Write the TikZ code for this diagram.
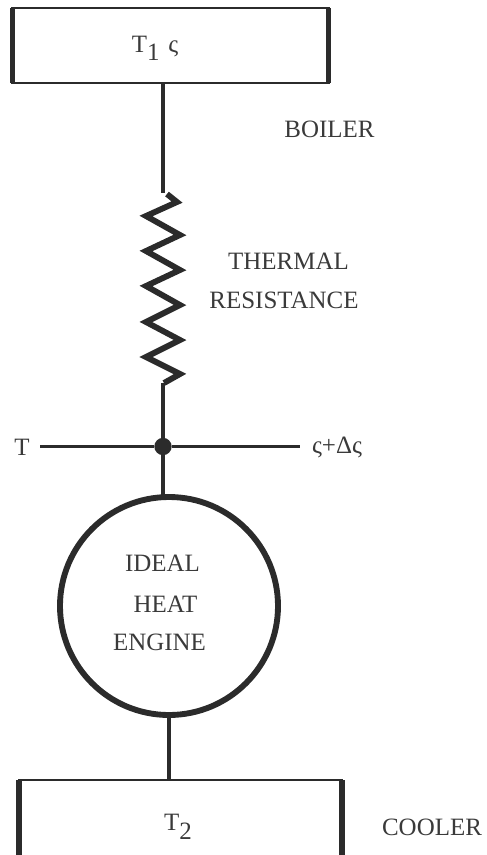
\documentclass[tikz,border=0pt]{standalone}
\usepackage{fontspec}
\setmainfont{Liberation Serif}
\usetikzlibrary{calc}

\definecolor{inkdark}{HTML}{2B2B2B}
\definecolor{inktext}{HTML}{3A3A3A}
\tikzset{
  tankbox/.style={draw=inkdark,line width=1.7pt,rectangle,inner sep=0pt,outer sep=0pt},
  tankside/.style={draw=inkdark,line width=4.8pt},
  wire/.style={draw=inkdark,line width=2.8pt},
  thinwire/.style={draw=inkdark,line width=1.9pt},
  lbl/.style={inner sep=0pt,text=inktext,font=\fontsize{21.3}{24}\selectfont},
}

\begin{document}
\begin{tikzpicture}[x=0.03cm,y=-0.03cm]
    \useasboundingbox (0,0) rectangle (487,855);
    \clip (0,0) rectangle (487,855);
    % boiler and cooler
    \node[tankbox,minimum width=9.48cm,minimum height=2.25cm] (boiler) at (170.5,45.5) {};
    \draw[tankside] (boiler.north west) -- (boiler.south west);
    \draw[tankside] (boiler.north east) -- (boiler.south east);
    \node[tankbox,minimum width=9.69cm,minimum height=3cm] (cooler) at (180.5,830) {};
    \draw[tankside] (cooler.north west) -- (cooler.south west);
    \draw[tankside] (cooler.north east) -- (cooler.south east);
    % engine
    \node[circle,draw=inkdark,line width=5pt,minimum size=6.54cm,inner sep=0pt,outer sep=0pt] (engine) at (169,606) {};
    % resistor ends and junction
    \coordinate (rtop) at (163,193);
    \coordinate (rbot) at (163,383);
    \node[circle,fill=inkdark,minimum size=0.52cm,inner sep=0pt,outer sep=0pt] (jun) at (163,446.5) {};
    \coordinate (wleft) at (40,446.5);
    \coordinate (wright) at (300,446.5);
    % connectors
    \draw[wire] (boiler.south -| rtop) -- (rtop);
    \draw[wire] (rbot) -- (jun);
    \draw[wire] (jun) -- (engine.north -| jun);
    \draw[wire] (engine.south) -- (engine.south |- cooler.north);
    \draw[thinwire] (wleft) -- (jun);
    \draw[thinwire] (jun) -- (wright);
    % resistor
    \draw[draw=inkdark,line width=5pt] (167,194) -- (177,202) -- (146,216)
      -- (180,235) -- (146,251) -- (180,270) -- (146,286) -- (180,305)
      -- (146,322) -- (180,340) -- (146,357) -- (180,374) -- (164,383);
    % labels
    \node[lbl] (t1) at (155,48) {T\raisebox{-7pt}{1}\hspace{0.35em}ς};
    \node[lbl] (boilertxt) at (329.5,129) {BOILER};
    \node[lbl] (thermal) at (288.5,261) {THERMAL};
    \node[lbl] (resist) at (284,300.5) {RESISTANCE};
    \node[lbl] (tlabel) at (22,447) {T};
    \node[lbl] (slabel) at (337,447) {ς+Δς};
    \node[lbl] (ideal) at (162.5,563) {IDEAL};
    \node[lbl] (heat) at (165.5,604) {HEAT};
    \node[lbl] (eng) at (159.5,642) {ENGINE};
    \node[lbl] (t2) at (178,827) {T\raisebox{-8pt}{2}};
    \node[lbl] (coolertxt) at (432,827) {COOLER};
\end{tikzpicture}
\end{document}
